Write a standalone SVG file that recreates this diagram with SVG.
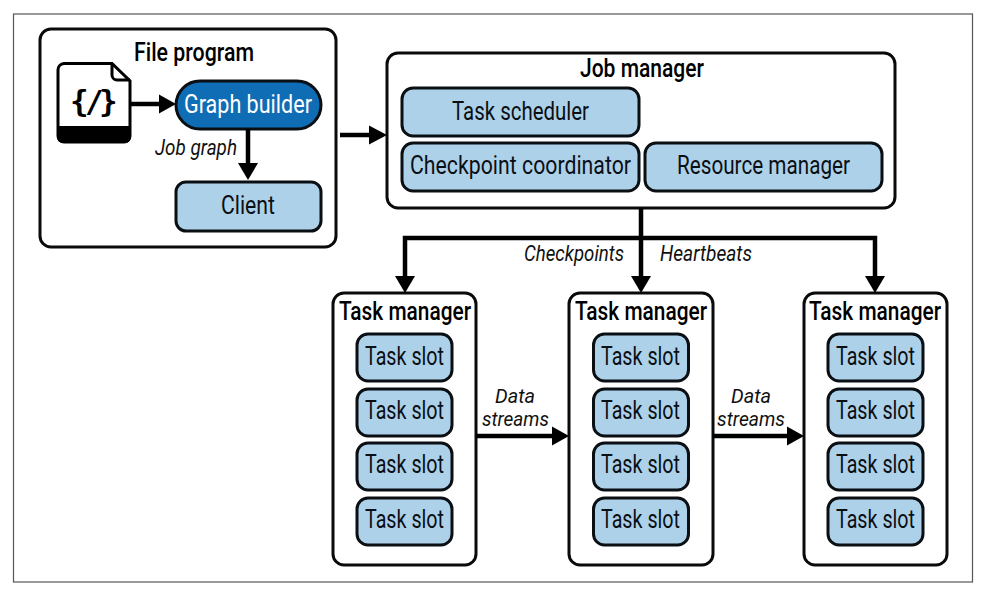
<svg xmlns="http://www.w3.org/2000/svg" width="986" height="594" viewBox="0 0 986 594">
<style>
text{font-family:"Roboto","Liberation Sans",sans-serif;font-size:25px;fill:#0a0f14}
.b{font-weight:500;fill:#000}
.i{font-style:italic;font-size:22px;fill:#111}
.d{font-size:20px}
.w{fill:#fff;stroke:#0a0a0a;stroke-width:3}
.c{fill:#aed1ea;stroke:#0a0f14;stroke-width:3}
.l{fill:none;stroke:#000;stroke-width:4.500}
.h{fill:#000;stroke:none}
</style>
<defs>
<rect id="slot" class="c" width="95" height="47" rx="11"/>
</defs>
<rect width="986" height="594" fill="#fff"/>
<rect id="frame" x="13.500" y="14" width="959" height="568" fill="none" stroke="#555" stroke-width="1.200"/>

<g id="file-program">
<rect class="w" x="40" y="29" width="296" height="218" rx="11"/>
<text class="b" x="134" y="61" textLength="120" lengthAdjust="spacingAndGlyphs">File program</text>
</g>
<g id="file-icon">
<path d="M64 63.500H112L130 81V136a6 6 0 0 1-6 6H64a6 6 0 0 1-6-6V70a6.500 6.500 0 0 1 6-6.500Z" fill="#fff" stroke="#000" stroke-width="3"/>
<path d="M112 63.500V75a5 5 0 0 0 5 5H130" fill="none" stroke="#000" stroke-width="3"/>
<path d="M57 126H131V137a6 6 0 0 1-6 6H63a6 6 0 0 1-6-6Z" fill="#000"/>
<text x="70 85 99" y="112" style="font-family:'DejaVu Sans Mono',monospace;font-weight:700;font-size:31px;fill:#000">{/}</text>
</g>
<g id="graph-builder">
<rect x="176" y="81" width="145" height="48" rx="24" fill="#0f6db5" stroke="#0a0f14" stroke-width="3"/>
<text x="184" y="113" textLength="128" lengthAdjust="spacingAndGlyphs" style="fill:#fff">Graph builder</text>
</g>
<g id="client">
<rect class="c" x="176" y="182" width="145" height="49" rx="10"/>
<text x="221" y="214" textLength="54" lengthAdjust="spacingAndGlyphs">Client</text>
</g>

<g id="job-manager">
<rect class="w" x="387" y="53" width="508" height="155" rx="11"/>
<text class="b" x="580" y="77" textLength="124" lengthAdjust="spacingAndGlyphs">Job manager</text>
</g>
<g id="task-scheduler">
<rect class="c" x="402" y="88" width="237" height="48" rx="11"/>
<text x="452" y="120" textLength="137" lengthAdjust="spacingAndGlyphs">Task scheduler</text>
</g>
<g id="checkpoint-coordinator">
<rect class="c" x="402" y="143" width="237" height="48" rx="11"/>
<text x="410" y="174" textLength="221" lengthAdjust="spacingAndGlyphs">Checkpoint coordinator</text>
</g>
<g id="resource-manager">
<rect class="c" x="645" y="143" width="237" height="48" rx="11"/>
<text x="677" y="174" textLength="173" lengthAdjust="spacingAndGlyphs">Resource manager</text>
</g>

<g id="task-manager-1">
<rect class="w" x="333" y="293" width="143" height="272" rx="11"/>
<text class="b" x="339" y="320" textLength="132" lengthAdjust="spacingAndGlyphs">Task manager</text>
<use href="#slot" x="357" y="334"/><text x="365" y="365" textLength="79" lengthAdjust="spacingAndGlyphs">Task slot</text>
<use href="#slot" x="357" y="389"/><text x="365" y="419" textLength="79" lengthAdjust="spacingAndGlyphs">Task slot</text>
<use href="#slot" x="357" y="443"/><text x="365" y="473" textLength="79" lengthAdjust="spacingAndGlyphs">Task slot</text>
<use href="#slot" x="357" y="498"/><text x="365" y="528" textLength="79" lengthAdjust="spacingAndGlyphs">Task slot</text>
</g>
<g id="task-manager-2">
<rect class="w" x="569" y="293" width="144" height="272" rx="11"/>
<text class="b" x="575" y="320" textLength="132" lengthAdjust="spacingAndGlyphs">Task manager</text>
<use href="#slot" x="593.500" y="334"/><text x="601" y="365" textLength="79" lengthAdjust="spacingAndGlyphs">Task slot</text>
<use href="#slot" x="593.500" y="389"/><text x="601" y="419" textLength="79" lengthAdjust="spacingAndGlyphs">Task slot</text>
<use href="#slot" x="593.500" y="443"/><text x="601" y="473" textLength="79" lengthAdjust="spacingAndGlyphs">Task slot</text>
<use href="#slot" x="593.500" y="498"/><text x="601" y="528" textLength="79" lengthAdjust="spacingAndGlyphs">Task slot</text>
</g>
<g id="task-manager-3">
<rect class="w" x="804" y="293" width="143" height="272" rx="11"/>
<text class="b" x="809" y="320" textLength="132" lengthAdjust="spacingAndGlyphs">Task manager</text>
<use href="#slot" x="828" y="334"/><text x="836" y="365" textLength="79" lengthAdjust="spacingAndGlyphs">Task slot</text>
<use href="#slot" x="828" y="389"/><text x="836" y="419" textLength="79" lengthAdjust="spacingAndGlyphs">Task slot</text>
<use href="#slot" x="828" y="443"/><text x="836" y="473" textLength="79" lengthAdjust="spacingAndGlyphs">Task slot</text>
<use href="#slot" x="828" y="498"/><text x="836" y="528" textLength="79" lengthAdjust="spacingAndGlyphs">Task slot</text>
</g>

<g id="connectors">
<path class="l" d="M131 104H160"/><path class="h" d="M176 104L159 94.500V113.500Z"/>
<path class="l" d="M248 129V165"/><path class="h" d="M248 180L238 163H258Z"/>
<path class="l" d="M340 135H370"/><path class="h" d="M387 135L369 125.500V144.500Z"/>
<path class="l" d="M641 208V278"/><path class="h" d="M641 293L631 276H651Z"/>
<path class="l" d="M405 278V238H875V278"/>
<path class="h" d="M405 293L395 276H415Z"/><path class="h" d="M875 293L865 276H885Z"/>
<path class="l" d="M476 436H553"/><path class="h" d="M569 436L552 426.500V445.500Z"/>
<path class="l" d="M713 436H788"/><path class="h" d="M804 436L787 426.500V445.500Z"/>
</g>
<g id="labels">
<text class="i" x="155" y="155" textLength="82" lengthAdjust="spacingAndGlyphs">Job graph</text>
<text class="i" x="524" y="261" textLength="100" lengthAdjust="spacingAndGlyphs">Checkpoints</text>
<text class="i" x="660" y="261" textLength="92" lengthAdjust="spacingAndGlyphs">Heartbeats</text>
<text class="i d" x="495" y="402.500" textLength="40" lengthAdjust="spacingAndGlyphs">Data</text>
<text class="i d" x="482" y="426" textLength="67" lengthAdjust="spacingAndGlyphs">streams</text>
<text class="i d" x="731" y="402.500" textLength="40" lengthAdjust="spacingAndGlyphs">Data</text>
<text class="i d" x="717" y="426" textLength="68" lengthAdjust="spacingAndGlyphs">streams</text>
</g>
</svg>
